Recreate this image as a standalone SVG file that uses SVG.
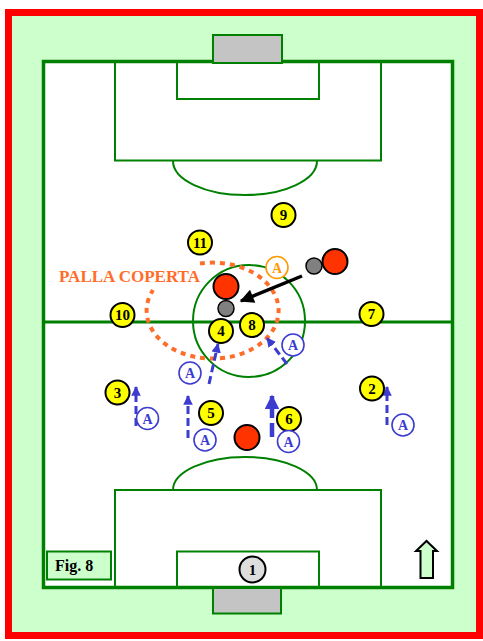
<svg xmlns="http://www.w3.org/2000/svg" width="483" height="641" viewBox="0 0 483 641">
<defs>
<style>
.ln{fill:none;stroke:#008000;stroke-width:2}
.goal{fill:#c4c4c4;stroke:#008000;stroke-width:2}
.yel{fill:#ffff00;stroke:#000;stroke-width:2}
.red{fill:#ff3300;stroke:#000;stroke-width:2}
.ball{fill:#808080;stroke:#000;stroke-width:1.5}
.num{font-family:"Liberation Serif",serif;font-weight:bold;font-size:15px;text-anchor:middle;fill:#000}
.ac{fill:#fff;stroke:#3c3cd0;stroke-width:1.6}
.at{font-family:"Liberation Serif",serif;font-weight:bold;font-size:14px;text-anchor:middle;fill:#3c3cd0}
.bl{fill:none;stroke:#3c3cd0;stroke-width:3;stroke-dasharray:8 4}
</style>
<marker id="bh" viewBox="0 0 10 10" refX="9" refY="5" markerWidth="3.2" markerHeight="3.2" orient="auto" markerUnits="strokeWidth">
<path d="M0,0 L10,5 L0,10 z" fill="#3c3cd0"/>
</marker>
<marker id="kh" viewBox="0 0 10 10" refX="9" refY="5" markerWidth="4.5" markerHeight="4" orient="auto" markerUnits="strokeWidth">
<path d="M0,0 L10,5 L0,10 z" fill="#000"/>
</marker>
</defs>
<rect x="8.5" y="12.5" width="471" height="623" fill="#ccffcc" stroke="#ff0000" stroke-width="7"/>
<g id="pitch">
<rect x="43.5" y="61.5" width="409" height="526" fill="#fff" stroke="#008000" stroke-width="3.5"/>
<rect class="ln" x="115" y="61.5" width="266" height="99"/>
<rect class="ln" x="177" y="61.5" width="142" height="37.5"/>
<rect class="goal" x="213" y="35" width="69" height="28"/>
<path class="ln" d="M173,161 A72,34 0 0 0 317,161"/>
<line x1="43.5" y1="322" x2="452.5" y2="322" stroke="#008000" stroke-width="3"/>
<circle class="ln" cx="249" cy="321" r="56"/>
<rect class="ln" x="115" y="490" width="266" height="97.5"/>
<rect class="ln" x="177" y="551.5" width="142" height="36"/>
<rect class="goal" x="213" y="588" width="68" height="25.5"/>
<path class="ln" d="M173,490 A72,33 0 0 1 317,490"/>
</g>
<g id="palla-coperta">
<path d="M200,263.5 A66,48 0 1 1 153,290" fill="none" stroke="#ff6d2a" stroke-width="4" stroke-dasharray="5 5"/>
<text x="59" y="282" font-family="Liberation Serif,serif" font-weight="bold" font-size="17" fill="#ff6d2a">PALLA COPERTA</text>
</g>
<g id="connectors">
<line x1="302" y1="276" x2="241" y2="301" stroke="#000" stroke-width="3.5" marker-end="url(#kh)"/>
<line class="bl" x1="136" y1="426" x2="136" y2="387" marker-end="url(#bh)"/>
<line class="bl" x1="188" y1="438" x2="188" y2="396" marker-end="url(#bh)"/>
<line x1="272" y1="437" x2="272" y2="396" stroke="#3c3cd0" stroke-width="4.5" stroke-dasharray="14 5" marker-end="url(#bh)" style="fill:none"/>
<line class="bl" x1="387" y1="425" x2="387" y2="387" marker-end="url(#bh)"/>
<line class="bl" x1="209" y1="384" x2="218" y2="344" stroke-dasharray="9 6" marker-end="url(#bh)"/>
<line class="bl" x1="287" y1="364" x2="267" y2="338" stroke-dasharray="6 14" marker-end="url(#bh)"/>
</g>
<g id="ball-1"><circle class="ball" cx="226" cy="308.5" r="8"/></g>
<g id="ball-2"><circle class="ball" cx="314" cy="266" r="8"/></g>
<g id="opp-1"><circle class="red" cx="226" cy="286.5" r="12.5"/></g>
<g id="opp-2"><circle class="red" cx="335" cy="261.5" r="12.5"/></g>
<g id="opp-3"><circle class="red" cx="247" cy="437.5" r="12.5"/></g>
<g id="p9"><circle class="yel" cx="283.5" cy="215" r="12"/><text class="num" x="283.5" y="220">9</text></g>
<g id="p11"><circle class="yel" cx="200" cy="242.5" r="12"/><text class="num" x="200" y="247.5">11</text></g>
<g id="p10"><circle class="yel" cx="122.5" cy="315" r="12"/><text class="num" x="122.5" y="320">10</text></g>
<g id="p4"><circle class="yel" cx="221" cy="331" r="12"/><text class="num" x="221" y="336">4</text></g>
<g id="p8"><circle class="yel" cx="252" cy="325" r="12"/><text class="num" x="252" y="330">8</text></g>
<g id="p7"><circle class="yel" cx="371.5" cy="314" r="12"/><text class="num" x="371.5" y="319">7</text></g>
<g id="p3"><circle class="yel" cx="117.5" cy="392.5" r="12"/><text class="num" x="117.5" y="397.5">3</text></g>
<g id="p5"><circle class="yel" cx="211" cy="413" r="12"/><text class="num" x="211" y="418">5</text></g>
<g id="p6"><circle class="yel" cx="289" cy="419" r="12"/><text class="num" x="289" y="424">6</text></g>
<g id="p2"><circle class="yel" cx="372" cy="388.5" r="12"/><text class="num" x="372" y="393.5">2</text></g>
<g id="gk1"><circle cx="252.5" cy="569.5" r="13" fill="#dddddd" stroke="#000" stroke-width="2"/><text class="num" x="252.5" y="575" font-size="14">1</text></g>
<g id="a-orange"><circle cx="277" cy="267.5" r="11" fill="#fff" stroke="#ff9900" stroke-width="1.6"/><text class="at" x="277" y="272.5" style="fill:#ff9900">A</text></g>
<g id="a1"><circle class="ac" cx="293" cy="345" r="11"/><text class="at" x="293" y="350">A</text></g>
<g id="a2"><circle class="ac" cx="190" cy="373" r="11"/><text class="at" x="190" y="378">A</text></g>
<g id="a3"><circle class="ac" cx="147.5" cy="418.5" r="11"/><text class="at" x="147.5" y="423.5">A</text></g>
<g id="a4"><circle class="ac" cx="205" cy="440" r="11"/><text class="at" x="205" y="445">A</text></g>
<g id="a5"><circle class="ac" cx="288.5" cy="441.5" r="11"/><text class="at" x="288.5" y="446.5">A</text></g>
<g id="a6"><circle class="ac" cx="403" cy="425" r="11"/><text class="at" x="403" y="430">A</text></g>
<g id="fig-label"><rect x="47" y="551.5" width="64" height="28" fill="#ccffcc" stroke="#008000" stroke-width="2"/><text x="55" y="571" font-family="Liberation Serif,serif" font-weight="bold" font-size="16" fill="#000">Fig. 8</text></g>
<g id="direction-arrow"><path d="M420.5,578 L420.5,551 L416,551 L426.5,541 L437,551 L433,551 L433,578 Z" fill="#ccffcc" stroke="#000" stroke-width="2" stroke-linejoin="miter"/></g>
</svg>
